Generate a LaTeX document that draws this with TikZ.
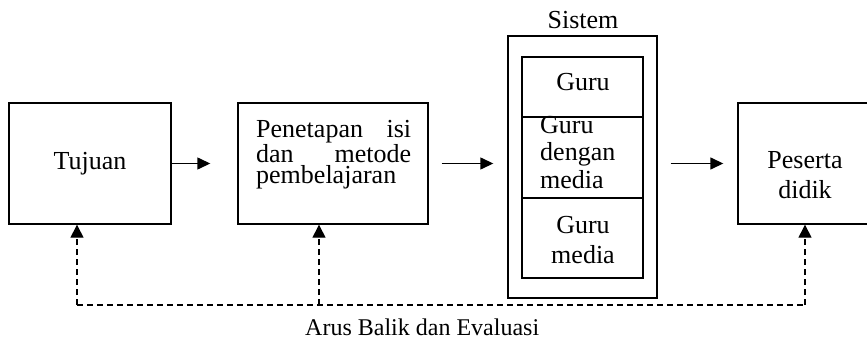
\documentclass[tikz,border=0pt]{standalone}
\usepackage{fontspec}
\setmainfont{Liberation Serif}
\usetikzlibrary{arrows.meta}
\begin{document}
\begin{tikzpicture}[x=1pt,y=-1pt,
  box/.style={draw,line width=1.4pt,inner sep=0pt,rectangle},
  txt/.style={inner sep=0pt,font=\fontsize{26}{30}\selectfont},
  flow/.style={line width=1.4pt,-{Triangle[length=13pt,width=12pt]}},
  fbk/.style={line width=1.4pt,dash pattern=on 6pt off 4pt},
  fbarrow/.style={fbk,-{Triangle[length=13pt,width=13pt]}}]
\useasboundingbox (0,0) rectangle (867,342);
\clip (0,0) rectangle (867,342);
\fill[white] (0,0) rectangle (867,342);

% main boxes
\node[box,minimum width=162pt,minimum height=121pt] (tuj) at (90,163.5) {};
\node[box,minimum width=190pt,minimum height=121pt] (pen) at (333,163.5) {};
\node[box,minimum width=134pt,minimum height=121pt] (pes) at (805,163.5) {};

% system frame with its three parts
\node[box,minimum width=149pt,minimum height=262pt] (sis) at (582.5,167) {};
\node[box,minimum width=121pt,minimum height=60pt] (gb1) at (582.5,87) {};
\node[box,minimum width=121pt,minimum height=81pt] (gb2) at (582.5,157.5) {};
\node[box,minimum width=121pt,minimum height=80pt] (gb3) at (582.5,238) {};

% texts (multi-line nodes are placed by the baseline of their last line)
\node[txt,anchor=base] (tujt) at (90,169) {Tujuan};
\node[txt,anchor=base west,text width=155pt,align=justify,font=\fontsize{26}{21}\selectfont] (pent) at (256,138)
  {Penetapan isi\linebreak dan metode\linebreak pembelajaran};
\node[txt,anchor=base] (sist) at (583,29) {Sistem};
\node[txt,anchor=base] (g1t) at (583,90.7) {Guru};
\node[txt,anchor=base west,align=left,font=\fontsize{26}{27.5}\selectfont] (g2t) at (540,188) {Guru\\dengan\\media};
\node[txt,anchor=base,align=center] (g3t) at (583,263) {Guru\\media};
\node[txt,anchor=base,align=center] (pest) at (805,198) {Peserta\\didik};
\node[inner sep=0pt,anchor=base west,font=\fontsize{24}{28}\selectfont] (arus) at (305,335) {Arus Balik dan Evaluasi};

% forward flow
\draw[flow,shorten >=27pt] (tuj.east) -- (pen.west);
\draw[flow,shorten <=13pt,shorten >=14pt] (pen.east) -- (pen.east -| sis.west);
\draw[flow,shorten <=13pt,shorten >=14pt] (pes.west -| sis.east) -- (pes.west);

% feedback
\coordinate (fb1) at (77,305);
\coordinate (fb2) at (319,305);
\coordinate (fb3) at (805,305);
\draw[fbk] (fb1) -- (fb3);
\draw[fbarrow] (fb1) -- (fb1 |- tuj.south);
\draw[fbarrow] (fb2) -- (fb2 |- pen.south);
\draw[fbarrow] (fb3) -- (fb3 |- pes.south);
\end{tikzpicture}
\end{document}
